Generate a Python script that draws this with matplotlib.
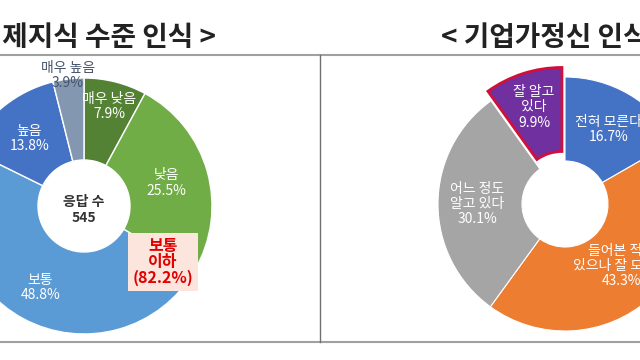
import math
import matplotlib
matplotlib.use("Agg")
import matplotlib.pyplot as plt

plt.rcParams["font.family"] = ["Noto Sans CJK KR", "DejaVu Sans"]

# data
left_labels = ["매우 낮음", "낮음", "보통", "높음", "매우 높음"]
left_values = [7.9, 25.5, 48.8, 13.8, 3.9]
n_resp = 545

right_labels = ["전혀 모른다", "들어본 적은\n있으나 잘 모른다", "어느 정도\n알고 있다", "잘 알고\n있다"]
right_values = [16.7, 43.3, 30.1, 9.9]

left_title = "< 경제지식 수준 인식 >"
right_title = "< 기업가정신 인식 >"

left_colors = ["#548235", "#70ad47", "#5b9bd5", "#4472c4", "#8497b0"]
right_colors = ["#4472c4", "#ed7d31", "#a5a5a5", "#7030a0"]


def place_labels(ax, wedges, labels, values, radius, rfac, colors, size=10):
    for w, lab, val, rf, c in zip(wedges, labels, values, rfac, colors):
        mid = math.radians((w.theta1 + w.theta2) / 2)
        cx, cy = w.center
        x = cx + rf * radius * math.cos(mid)
        y = cy + rf * radius * math.sin(mid)
        ax.text(x, y, f"{lab}\n{val:.1f}%", ha="center", va="center",
                color=c, fontsize=size, linespacing=1.1)


fig = plt.figure(figsize=(6.4, 3.6), dpi=100)
ax = fig.add_axes([0, 0, 1, 1])

# left donut
lc, lr = (84, 154), 128
lw, _ = ax.pie(left_values, colors=left_colors, startangle=90, counterclock=False,
               center=lc, radius=lr,
               wedgeprops=dict(width=82, edgecolor="white", linewidth=1))
place_labels(ax, lw, left_labels, left_values, lr,
             [0.8, 0.67, 0.72, 0.68, 1.03],
             ["white", "white", "white", "white", "#44546a"])
ax.text(lc[0], lc[1] - 4, f"응답 수\n{n_resp}", ha="center", va="center",
        fontsize=10, fontweight="bold", color="#333333", linespacing=1.1)
ax.text(163, 98, f"보통\n이하\n({sum(left_values[:3]):.1f}%)", ha="center",
        va="center", fontsize=11.5, fontweight="bold", color="#e00000",
        linespacing=1.0,
        bbox=dict(boxstyle="square,pad=0.3", facecolor="#fbe5dc", edgecolor="none"))

# right donut
rc, rr = (565, 156), 127
explode = [0, 0, 0, 10]
rw, _ = ax.pie(right_values, colors=right_colors, startangle=90, counterclock=False,
               center=rc, radius=rr, explode=explode,
               wedgeprops=dict(width=84, edgecolor="white", linewidth=0.8))
rw[3].set_edgecolor("#d0103a")
rw[3].set_linewidth(2)
place_labels(ax, rw, right_labels, right_values, rr,
             [0.68, 0.66, 0.69, 0.72], ["white"] * 4)

# frame lines
ax.plot([0, 640], [305, 305], color="#a0a0a0", lw=1.5)
ax.plot([0, 640], [18, 18], color="#a0a0a0", lw=1.5)
ax.plot([320, 320], [18, 305], color="#707070", lw=1)

# titles (cut off by the screenshot edges)
ax.text(216, 322, left_title, ha="right", va="center", fontsize=20,
        fontweight="bold", color="#222222")
ax.text(441, 322, right_title, ha="left", va="center", fontsize=20,
        fontweight="bold", color="#222222")

ax.set_xlim(0, 640)
ax.set_ylim(0, 360)
ax.set_aspect("equal")
ax.axis("off")

fig.savefig("out.png", dpi=100)
